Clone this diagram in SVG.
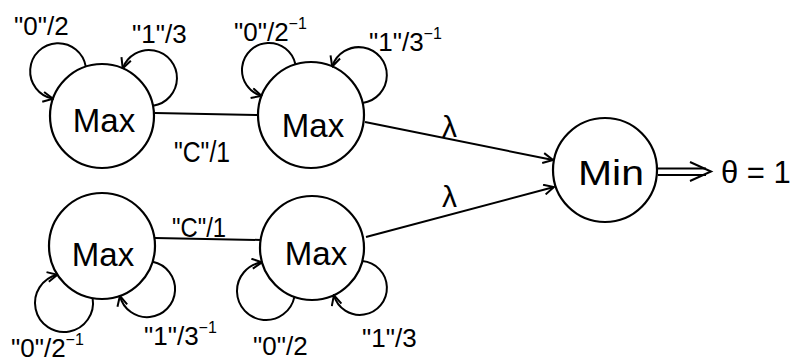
<svg xmlns="http://www.w3.org/2000/svg" width="801" height="363" viewBox="0 0 801 363">
  <style>
    .node { fill: none; stroke: #000; stroke-width: 2.2; }
    .edge { fill: none; stroke: #000; stroke-width: 2; }
    .name { font-family: "Liberation Sans", "DejaVu Sans", sans-serif; font-size: 33px; text-anchor: middle; fill: #000; }
    .lbl { font-family: "Liberation Sans", "DejaVu Sans", sans-serif; font-size: 26px; fill: #000; }
    .sup { font-size: 16px; }
    .big { font-size: 30px; }
  </style>
  <defs>
    <marker id="arrow" viewBox="0 0 12 12" refX="11" refY="6" markerWidth="12" markerHeight="12" markerUnits="userSpaceOnUse" orient="auto">
      <path d="M1,1 L11,6 L1,11" fill="none" stroke="#000" stroke-width="2"/>
    </marker>
  </defs>

  <rect width="801" height="363" fill="#fff"/>

  <!-- nodes -->
  <g id="max-a1">
    <circle class="node" cx="102" cy="116" r="52"/>
    <text class="name" x="104" y="132">Max</text>
  </g>
  <g id="max-a2">
    <circle class="node" cx="311" cy="115" r="53"/>
    <text class="name" x="313" y="137">Max</text>
  </g>
  <g id="max-b1">
    <circle class="node" cx="102" cy="246" r="53"/>
    <text class="name" x="103" y="266">Max</text>
  </g>
  <g id="max-b2">
    <circle class="node" cx="312" cy="248" r="52"/>
    <text class="name" x="316" y="265">Max</text>
  </g>
  <g id="min">
    <circle class="node" cx="605" cy="170" r="52"/>
    <text class="name" x="611" y="185" textLength="66" lengthAdjust="spacingAndGlyphs" style="font-size:35px">Min</text>
  </g>
  <g id="result">
    <text class="lbl" x="721" y="183" style="font-size:31px">θ = 1</text>
  </g>

  <!-- connectors -->
  <g id="connectors">
    <!-- self loops, upper chain -->
    <path class="edge" d="M85.8,66.7 A28,28 0 1 0 53,98.7" marker-end="url(#arrow)"/>
    <path class="edge" d="M153.1,105.7 A28,28 0 1 0 122.7,68.3" marker-end="url(#arrow)"/>
    <path class="edge" d="M295.4,64.3 A27,27 0 1 0 261.6,95.9" marker-end="url(#arrow)"/>
    <path class="edge" d="M362.6,102.9 A28,28 0 1 0 332.2,66.5" marker-end="url(#arrow)"/>
    <!-- self loops, lower chain -->
    <path class="edge" d="M92.6,298.1 A29,29 0 1 1 57.4,274.7" marker-end="url(#arrow)"/>
    <path class="edge" d="M152.7,261.7 A28,28 0 1 1 119.9,295.9" marker-end="url(#arrow)"/>
    <path class="edge" d="M294.4,296.9 A29,29 0 1 1 262,262.3" marker-end="url(#arrow)"/>
    <path class="edge" d="M362.3,261 A27,27 0 1 1 333.9,295.2" marker-end="url(#arrow)"/>
    <!-- chain links -->
    <line class="edge" x1="155" y1="113" x2="258" y2="115"/>
    <line class="edge" x1="155" y1="238" x2="261" y2="240"/>
    <!-- lambda edges to Min -->
    <line class="edge" x1="365" y1="122" x2="553" y2="160" marker-end="url(#arrow)"/>
    <line class="edge" x1="366" y1="237" x2="554" y2="187" marker-end="url(#arrow)"/>
    <!-- double output arrow -->
    <line class="edge" x1="658" y1="168.5" x2="706" y2="168.5"/>
    <line class="edge" x1="658" y1="175" x2="706" y2="175"/>
    <path class="edge" d="M690,162 L711,171.5 L690,181"/>

    <!-- labels -->
    <text class="lbl" x="14" y="35">"0"/2</text>
    <text class="lbl" x="132" y="43">"1"/3</text>
    <text class="lbl" x="234" y="41">"0"/2<tspan class="sup" dy="-12">−1</tspan></text>
    <text class="lbl" x="369" y="51">"1"/3<tspan class="sup" dy="-12">−1</tspan></text>
    <text class="lbl" x="174" y="162" textLength="56" lengthAdjust="spacingAndGlyphs" style="font-size:29px">"C"/1</text>
    <text class="lbl" x="172" y="237" textLength="54" lengthAdjust="spacingAndGlyphs" style="font-size:28px">"C"/1</text>
    <text class="lbl big" x="442" y="137">λ</text>
    <text class="lbl big" x="442" y="207">λ</text>
    <text class="lbl" x="11" y="357">"0"/2<tspan class="sup" dy="-12">−1</tspan></text>
    <text class="lbl" x="144" y="345">"1"/3<tspan class="sup" dy="-12">−1</tspan></text>
    <text class="lbl" x="253" y="355">"0"/2</text>
    <text class="lbl" x="362" y="347">"1"/3</text>
  </g>
</svg>
